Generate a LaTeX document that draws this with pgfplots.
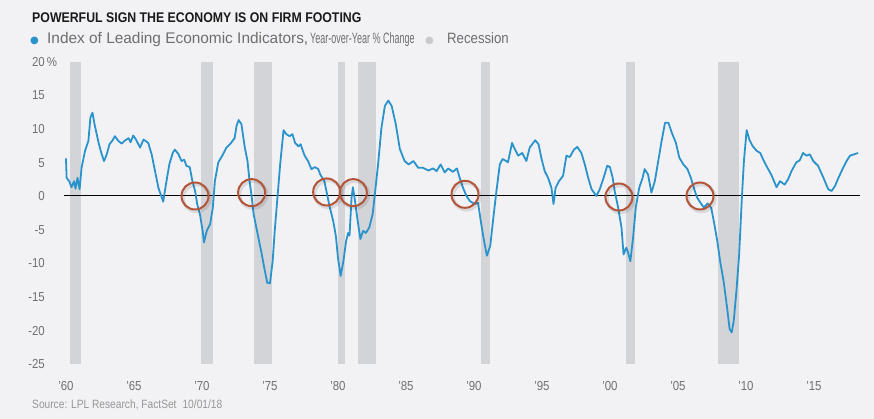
\documentclass[border=0pt]{standalone}
\usepackage{fontspec}
\setmainfont{Liberation Sans}
\newfontfamily\titlefont{Liberation Sans}[FakeStretch=0.88]
\newfontfamily\labfont{Liberation Sans}[FakeStretch=0.88]
\newfontfamily\legfont{Liberation Sans}
\newfontfamily\condfont{Liberation Sans}[FakeStretch=0.6]
\newfontfamily\srcfont{Liberation Sans}[FakeStretch=0.85]
\newfontfamily\dejavu{DejaVu Sans}
\usepackage{pgfplots}
\pgfplotsset{compat=1.18}
\definecolor{bg}{RGB}{242,242,244}
\definecolor{recgray}{RGB}{211,212,216}
\definecolor{lineblue}{RGB}{42,147,204}
\definecolor{circred}{RGB}{180,85,58}
\definecolor{titlecol}{RGB}{26,26,26}
\definecolor{legcol}{RGB}{110,110,110}
\definecolor{tickcol}{RGB}{112,112,112}
\definecolor{srccol}{RGB}{150,150,150}
\definecolor{recdot}{RGB}{201,202,206}

\pgfplotstableread{
x y
1960.00 5.6
1960.05 2.7
1960.24 2.2
1960.40 1.3
1960.60 2.2
1960.70 1.1
1960.85 2.7
1961.00 1.0
1961.15 4.2
1961.40 6.7
1961.65 8.2
1961.80 11.7
1961.95 12.4
1962.10 10.7
1962.40 7.9
1962.60 6.4
1962.80 5.2
1963.00 6.2
1963.20 7.7
1963.40 8.2
1963.60 8.9
1963.85 8.2
1964.10 7.8
1964.30 8.2
1964.60 8.6
1964.75 8.0
1964.95 9.0
1965.15 8.4
1965.45 7.2
1965.70 8.4
1966.05 7.9
1966.30 6.2
1966.55 3.7
1966.80 1.2
1967.05 -0.25
1967.15 -0.85
1967.35 1.7
1967.60 4.7
1967.85 6.4
1968.00 6.9
1968.25 6.3
1968.50 5.2
1968.70 5.4
1968.85 4.5
1969.10 4.3
1969.30 2.2
1969.50 0.7
1969.65 -1.2
1969.85 -2.7
1970.05 -5.2
1970.15 -6.9
1970.35 -5.2
1970.60 -4.2
1970.80 -1.7
1970.95 2.2
1971.20 5.0
1971.55 6.2
1971.80 7.2
1972.10 7.8
1972.40 8.6
1972.55 10.5
1972.70 11.3
1972.90 10.7
1973.15 7.2
1973.35 5.2
1973.50 2.2
1973.65 0
1973.80 -2.7
1974.15 -6.2
1974.40 -8.7
1974.60 -10.9
1974.80 -12.9
1975.00 -13.0
1975.20 -9.7
1975.35 -5.2
1975.55 -0.25
1975.75 4.7
1976.00 9.8
1976.20 9.2
1976.45 8.9
1976.65 9.2
1976.85 7.9
1977.10 7.4
1977.25 7.7
1977.55 6.0
1977.80 5.2
1978.05 4.0
1978.30 4.3
1978.55 4.0
1978.70 3.2
1979.00 2.2
1979.20 0.25
1979.40 -1.7
1979.65 -3.7
1979.85 -6.0
1980.00 -9.2
1980.20 -11.9
1980.40 -9.7
1980.60 -6.7
1980.75 -5.5
1980.85 -5.9
1981.00 -0.25
1981.10 1.3
1981.25 -0.7
1981.45 -3.7
1981.65 -6.4
1981.85 -5.2
1982.05 -5.5
1982.30 -4.7
1982.55 -2.7
1982.70 0
1982.95 4.7
1983.20 10.2
1983.45 13.4
1983.70 14.2
1983.95 13.4
1984.25 10.7
1984.55 7.0
1984.90 5.2
1985.20 4.7
1985.55 5.2
1985.90 4.2
1986.25 4.2
1986.65 3.8
1987.00 4.1
1987.25 3.7
1987.55 4.7
1987.85 3.5
1988.10 4.1
1988.45 3.6
1988.75 4.1
1988.95 2.7
1989.20 1.2
1989.45 0
1989.70 -0.75
1990.05 -1.2
1990.30 -1.0
1990.50 -3.7
1990.70 -6.2
1990.95 -8.9
1991.20 -7.4
1991.40 -3.7
1991.65 0.7
1991.90 4.7
1992.10 5.5
1992.30 5.3
1992.50 5.0
1992.80 7.9
1992.95 7.2
1993.25 6.0
1993.55 6.4
1993.85 5.2
1994.10 7.2
1994.50 8.3
1994.75 7.7
1994.95 5.7
1995.20 3.7
1995.45 2.7
1995.70 1.2
1995.85 -1.2
1996.00 1.2
1996.25 2.2
1996.55 3.0
1996.80 6.0
1997.05 5.8
1997.35 6.9
1997.60 7.3
1997.90 6.4
1998.15 4.7
1998.40 2.7
1998.65 1.0
1999.00 0
1999.25 1.0
1999.50 2.5
1999.80 4.5
2000.00 4.3
2000.20 2.7
2000.35 0.7
2000.60 -1.7
2000.85 -4.7
2001.00 -8.7
2001.20 -7.7
2001.30 -8.2
2001.50 -9.7
2001.70 -6.2
2001.90 -1.7
2002.15 1.2
2002.40 2.7
2002.55 4.0
2002.80 3.2
2003.05 0.5
2003.30 2.2
2003.55 5.2
2003.80 8.2
2004.05 10.9
2004.30 10.9
2004.55 9.4
2004.85 7.9
2005.10 5.7
2005.40 4.7
2005.70 4.0
2005.95 2.7
2006.20 1.0
2006.40 -0.2
2006.65 -1.0
2006.90 -1.7
2007.20 -1.1
2007.45 -1.8
2007.65 -3.9
2007.90 -6.8
2008.10 -9.7
2008.35 -12.6
2008.60 -16.4
2008.80 -19.8
2008.95 -20.3
2009.10 -18.6
2009.30 -14.1
2009.50 -8.7
2009.70 -0.25
2009.85 5.2
2010.05 9.8
2010.25 8.4
2010.50 7.4
2010.80 6.7
2011.05 6.4
2011.25 5.5
2011.50 4.5
2011.90 3.0
2012.25 1.3
2012.50 2.2
2012.85 1.7
2013.10 2.5
2013.35 3.7
2013.70 5.0
2013.95 5.3
2014.20 6.4
2014.45 6.0
2014.70 6.2
2014.95 5.2
2015.30 4.5
2015.70 2.7
2016.05 1.0
2016.30 0.75
2016.55 1.5
2016.80 2.7
2017.10 4.0
2017.40 5.2
2017.65 6.0
2017.95 6.2
2018.25 6.4
}\leidata

\pgfplotstableread{
x y
1969.49 0
1973.65 0.5
1979.17 0.6
1981.13 0.5
1989.34 0.25
2000.66 -0.15
2006.62 0
}\circdata

\begin{document}
\begin{tikzpicture}
\fill[bg] (0,0) rectangle (874pt,419pt);
\begin{axis}[
  at={(64.6pt,55pt)}, anchor=south west,
  scale only axis, width=798.3pt, height=302.4pt,
  xmin=1959.9, xmax=2018.6, ymin=-25, ymax=20,
  axis line style={draw=none},
  major tick length=0pt,
  xtick={1960,1965,...,2015},
  xticklabels={’60,’65,’70,’75,’80,’85,’90,’95,’00,’05,’10,’15},
  ytick={-25,-20,...,20},
  yticklabels={-25,-20,-15,-10,-5,0,5,10,15,{20\rlap{\,\%}}},
  xticklabel style={anchor=base, yshift=-26.7pt, font=\labfont\fontsize{13}{13}\selectfont, text=tickcol},
  yticklabel style={anchor=base east, inner sep=0pt, xshift=-19.6pt, yshift=-4.65pt, font=\labfont\fontsize{13}{13}\selectfont, text=tickcol},
  /pgf/number format/assume math mode=true,
  clip=false,
]
\addplot[fill=recgray, draw=none] coordinates {(1960.33,-25) (1960.33,20) (1961.08,20) (1961.08,-25)} -- cycle;
\addplot[fill=recgray, draw=none] coordinates {(1969.92,-25) (1969.92,20) (1970.83,20) (1970.83,-25)} -- cycle;
\addplot[fill=recgray, draw=none] coordinates {(1973.83,-25) (1973.83,20) (1975.17,20) (1975.17,-25)} -- cycle;
\addplot[fill=recgray, draw=none] coordinates {(1980.00,-25) (1980.00,20) (1980.50,20) (1980.50,-25)} -- cycle;
\addplot[fill=recgray, draw=none] coordinates {(1981.50,-25) (1981.50,20) (1982.83,20) (1982.83,-25)} -- cycle;
\addplot[fill=recgray, draw=none] coordinates {(1990.50,-25) (1990.50,20) (1991.17,20) (1991.17,-25)} -- cycle;
\addplot[fill=recgray, draw=none] coordinates {(2001.17,-25) (2001.17,20) (2001.83,20) (2001.83,-25)} -- cycle;
\addplot[fill=recgray, draw=none] coordinates {(2007.92,-25) (2007.92,20) (2009.50,20) (2009.50,-25)} -- cycle;
\addplot[black, line width=1pt] coordinates {(1959.85,0) (2018.38,0)};
\addplot[lineblue, line width=1.8pt, line join=round] table[x=x,y=y] {\leidata};
\addplot[only marks, mark=o, mark size=13.5pt, mark options={draw=black, draw opacity=0.10, line width=3.5pt, xshift=1.5pt, yshift=-2pt}] table[x=x,y=y] {\circdata};
\addplot[only marks, mark=o, mark size=13.5pt, mark options={draw=circred, line width=2pt}] table[x=x,y=y] {\circdata};
\end{axis}
\node[anchor=base west, inner sep=0pt, text=titlecol] at (32pt,396.3pt) {\titlefont\bfseries\fontsize{14}{14}\selectfont POWERFUL SIGN THE ECONOMY IS ON FIRM FOOTING};
\node[anchor=base west, inner sep=0pt, text=lineblue] at (30pt,375.7pt) {\dejavu\fontsize{10}{10}\selectfont ●};
\node[anchor=base west, inner sep=0pt, text=legcol] at (47pt,375.7pt) {\legfont\fontsize{15.4}{15.4}\selectfont Index of Leading Economic Indicators,};
\node[anchor=base west, inner sep=0pt, text=legcol] at (310pt,375.7pt) {\condfont\fontsize{15}{15}\selectfont Year-over-Year \% Change};
\node[anchor=base west, inner sep=0pt, text=recdot] at (425pt,375.7pt) {\dejavu\fontsize{10}{10}\selectfont ●};
\node[anchor=base west, inner sep=0pt, text=legcol] at (447pt,375.7pt) {\labfont\fontsize{15}{15}\selectfont Recession};
\node[anchor=base west, inner sep=0pt, text=srccol] at (32pt,10.7pt) {\srcfont\fontsize{12}{12}\selectfont Source: LPL Research, FactSet\hspace{6pt}10/01/18};
\end{tikzpicture}
\end{document}
